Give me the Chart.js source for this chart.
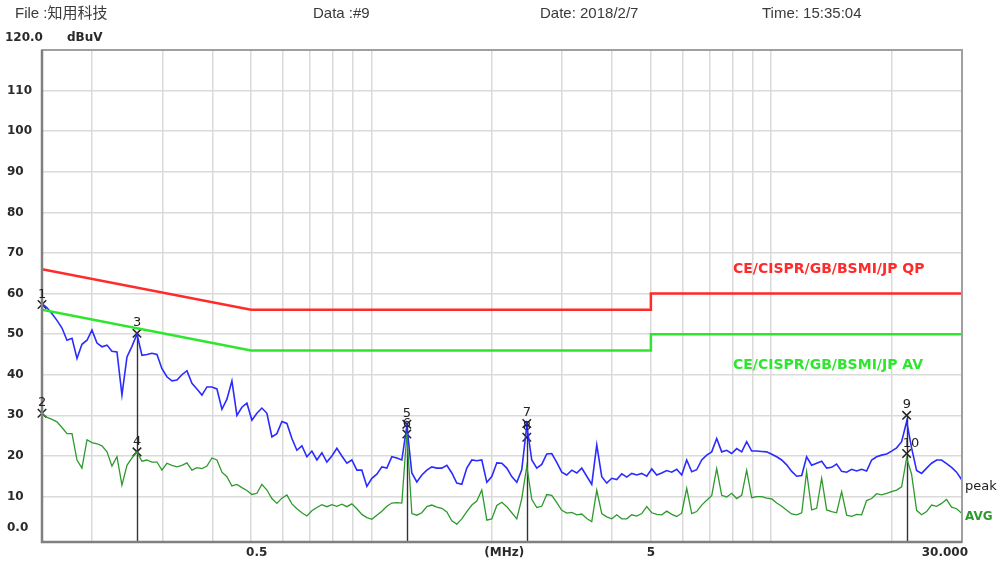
<!DOCTYPE html>
<html><head><meta charset="utf-8">
<script src="https://cdn.jsdelivr.net/npm/chart.js@4.4.1/dist/chart.umd.min.js"></script>
<style>html,body{margin:0;padding:0;background:#fff;}</style>
</head><body>
<canvas id="c" width="1000" height="565"></canvas>
<script>
// ---- data ----
const freqMHz = [
0.1500,0.1544,0.1589,0.1635,0.1683,0.1732,0.1783,0.1835,0.1888,0.1944,
0.2000,0.2059,0.2119,0.2181,0.2244,0.2310,0.2377,0.2447,0.2518,0.2592,
0.2667,0.2745,0.2825,0.2908,0.2993,0.3080,0.3170,0.3263,0.3358,0.3456,
0.3557,0.3661,0.3768,0.3878,0.3991,0.4108,0.4228,0.4351,0.4478,0.4609,
0.4743,0.4882,0.5025,0.5171,0.5322,0.5478,0.5638,0.5802,0.5972,0.6146,
0.6326,0.6510,0.6700,0.6896,0.7097,0.7305,0.7518,0.7737,0.7963,0.8196,
0.8435,0.8681,0.8935,0.9196,0.9464,0.9741,1.0025,1.0318,1.0619,1.0929,
1.1248,1.1577,1.1915,1.2263,1.2621,1.2989,1.3369,1.3759,1.4161,1.4574,
1.500,1.544,1.589,1.635,1.683,1.732,1.783,1.835,1.888,1.944,
2.000,2.059,2.119,2.181,2.244,2.310,2.377,2.447,2.518,2.592,
2.667,2.745,2.825,2.908,2.993,3.080,3.170,3.263,3.358,3.456,
3.557,3.661,3.768,3.878,3.991,4.108,4.228,4.351,4.478,4.609,
4.743,4.882,5.025,5.171,5.322,5.478,5.638,5.802,5.972,6.146,
6.326,6.510,6.700,6.896,7.097,7.305,7.518,7.737,7.963,8.196,
8.435,8.681,8.935,9.196,9.464,9.741,10.03,10.32,10.62,10.93,
11.25,11.58,11.92,12.26,12.62,12.99,13.37,13.76,14.16,14.57,
15.00,15.44,15.89,16.35,16.83,17.32,17.83,18.35,18.88,19.44,
20.00,20.59,21.19,21.81,22.44,23.10,23.77,24.47,25.18,25.92,
26.67,27.45,28.25,29.08,30.00];

const peak = [
57.5,56.5,55,53.4,51.5,48.5,49,44,47.5,48.5,
51,47.8,46.9,47.3,45.8,45.6,35,44.4,47,50,
44.8,45,45.3,45,41.5,39.5,38.5,38.7,40,41,
37.9,36.5,35,37,37,36.5,31.5,34,38.5,30,
32,33,28.8,30.5,31.8,30.5,24.7,25.5,28.5,28,
24.3,21.4,22.5,19.8,21.2,19,20.8,18.5,20,21.9,
20,18.2,19,16.5,16.5,12.5,14.5,15.5,17.3,17,
19.8,19.5,19,27.4,15.8,13.6,15.3,16.5,17.3,17,
17,17.7,15.8,13.3,13,17,19,18.8,19,13.5,
14.9,18.3,18.2,17,14.9,13.5,16.6,27.5,19,17,
17.9,20.5,20.6,18.4,16,15.3,16.5,15.8,17,15,
13,22.7,14.9,13.3,14.5,14.2,15.6,14.8,15.7,15.3,
15.7,15,16.8,15.3,15.8,16.4,16,16.7,15.3,19,
16.1,16.6,19,20.2,21,24.3,21,21.4,20.6,21.8,
21,23.5,21.2,21.2,21.1,21,20.4,19.8,19,17.8,
16.2,15,15.2,19.8,17.7,18.2,18.7,17,17.2,18,
16.2,16,16.7,16.3,16.7,16.3,19,19.8,20.2,20.5,
21.2,22,23.5,28.5,22,16.4,15.7,17,18.2,19,
19,18.1,17.2,16,14];

const avg = [
30.5,29.5,29,28.4,27,25.5,25.5,19,17,24,
23.3,23,22.5,21,17.5,19.8,12.8,17.7,19.5,21,
18.7,19,18.5,18.5,16.5,18.2,17.7,17.3,17.7,18.3,
16.5,17.1,16.9,17.5,19.5,19,16,14.9,12.6,13,
12.2,11.5,10.5,10.8,13,11.6,9.5,8.3,9.6,10.4,
8.2,7,6,5.2,6.5,7.3,8,7.5,8,7.6,
8.1,7.5,8.2,7,5.6,4.8,4.4,5.4,6.4,7.6,
8.4,8.5,8.4,25.6,5.8,5.4,6,7.5,7.9,7.4,
7.1,6.2,4,3.2,4.5,6.3,7.9,8.9,11.6,4.2,
4.5,7.8,8.6,7.5,6,4.5,9.5,17.5,9.3,7.3,
7.6,10.5,10.3,8.5,6.6,5.9,6.1,5.5,5.7,4.6,
3.8,11.6,5.8,5,4.5,5.5,4.5,4.5,5.5,5.2,
5.8,7.5,6,5.6,5.5,6.4,5.6,5.1,5.9,12,
5.8,6.3,7.9,9.1,10.2,16.9,10.3,9.9,10.8,9.5,
10.3,16.5,9.7,10,10,9.6,9.4,8.4,7.6,6.6,
5.7,5.5,6,16.1,6.7,7.1,14.5,6.7,6.3,6,
11.2,5.4,5.1,5.6,5.5,9,9.5,10.7,10.4,10.8,
11.2,11.6,12.4,19.5,15.5,6.6,5.5,6.3,7.9,7.6,
8.3,9.3,7.4,7,5.8];

const qpLimitFreq = [0.15, 0.5, 5, 5, 30];
const qpLimit     = [66, 56, 56, 60, 60];
const avLimitFreq = [0.15, 0.5, 5, 5, 30];
const avLimit     = [56, 46, 46, 50, 50];

const markerNo    = [1, 2, 3, 4, 5, 6, 7, 8, 9, 10];
const markerFreq  = [0.15, 0.15, 0.2592, 0.2592, 1.2263, 1.2263, 2.447, 2.447, 21.81, 21.81];
const markerLevel = [57.3, 30.5, 50.2, 21.0, 27.8, 25.4, 28.0, 24.6, 30.0, 20.6];

const xGridTicks = [0.2,0.3,0.4,0.5,0.6,0.7,0.8,0.9,1,2,3,4,5,6,7,8,9,10,20];
const xTickLabels = ['0.5', '(MHz)', '5', '30.000'];
const xTickLabelFreq = [0.5, 2.15, 5, 30];
const yTicks = [10,20,30,40,50,60,70,80,90,100,110];
const yTickLabels = ['0.0','10','20','30','40','50','60','70','80','90','100','110'];
const yTickLabelValues = [0,10,20,30,40,50,60,70,80,90,100,110];

const headerTexts = ['File :知用科技', 'Data :#9', 'Date: 2018/2/7', 'Time: 15:35:04'];
const limitNames = ['CE/CISPR/GB/BSMI/JP QP', 'CE/CISPR/GB/BSMI/JP AV'];

// ---- build ----
const toXY = (xs, ys) => xs.map((f, i) => ({x: f, y: ys[i]}));

const deco = {
  id: 'deco',
  beforeDatasetsDraw(chart) {
    const {ctx, chartArea: a, scales: {x, y}} = chart;
    ctx.save();
    ctx.strokeStyle = '#333';
    ctx.lineWidth = 1.4;
    for (let i = 2; i < markerFreq.length; i += 2) {
      const px = Math.round(x.getPixelForValue(markerFreq[i])) + 0.5;
      const top = y.getPixelForValue(Math.max(markerLevel[i], markerLevel[i + 1]));
      ctx.beginPath(); ctx.moveTo(px, top); ctx.lineTo(px, a.bottom); ctx.stroke();
    }
    ctx.restore();
  },
  afterDatasetsDraw(chart) {
    const {ctx, chartArea: a, scales: {x, y}} = chart;
    ctx.save();
    // frame
    ctx.strokeStyle = '#a0a0a0'; ctx.lineWidth = 2;
    ctx.strokeRect(a.left, a.top, a.right - a.left, a.bottom - a.top);
    ctx.strokeStyle = '#808080'; ctx.lineWidth = 2.5;
    ctx.beginPath(); ctx.moveTo(a.left, a.top); ctx.lineTo(a.left, a.bottom); ctx.lineTo(a.right, a.bottom); ctx.stroke();

    // marker numbers
    ctx.fillStyle = '#222';
    ctx.font = '13px "DejaVu Sans"';
    ctx.textAlign = 'left'; ctx.textBaseline = 'alphabetic';
    markerNo.forEach((n, i) => {
      const px = x.getPixelForValue(markerFreq[i]);
      const py = y.getPixelForValue(markerLevel[i]);
      ctx.fillText(String(n), px - 4, py - 7);
    });

    // header
    ctx.fillStyle = '#3a3a3a';
    ctx.font = '15px "Liberation Sans", "Noto Sans CJK SC"';
    ctx.textBaseline = 'middle';
    const hx = [15, 313, 540, 762];
    headerTexts.forEach((t, i) => ctx.fillText(t, hx[i], 14));

    // unit line
    ctx.fillStyle = '#2a2a2a';
    ctx.font = 'bold 12px "DejaVu Sans"';
    ctx.fillText('120.0', 5, 38);
    ctx.fillText('dBuV', 67, 38);

    // y labels
    yTickLabels.forEach((t, i) => {
      let py = y.getPixelForValue(yTickLabelValues[i]);
      if (yTickLabelValues[i] === 0) py -= 9;
      ctx.fillText(t, 7, py);
    });

    // x labels
    ctx.textBaseline = 'middle';
    xTickLabels.forEach((t, i) => {
      const px = x.getPixelForValue(xTickLabelFreq[i]);
      if (i === 0) { ctx.textAlign = 'left'; ctx.fillText(t, px - 5, 553); }
      else if (i === 3) { ctx.textAlign = 'right'; ctx.fillText(t, px + 6, 553); }
      else { ctx.textAlign = 'center'; ctx.fillText(t, px, 553); }
    });

    // limit names
    ctx.textAlign = 'left';
    ctx.font = 'bold 14px "DejaVu Sans"';
    ctx.fillStyle = '#ff2a2a';
    ctx.fillText(limitNames[0], 733, 269);
    ctx.fillStyle = '#2ee62e';
    ctx.fillText(limitNames[1], 733, 365);

    // trace names
    ctx.fillStyle = '#222';
    ctx.font = '13px "DejaVu Sans"';
    ctx.fillText('peak', 965, 487);
    ctx.fillStyle = '#2e9a2e';
    ctx.font = 'bold 12px "DejaVu Sans"';
    ctx.fillText('AVG', 965, 517);
    ctx.restore();
  }
};

new Chart(document.getElementById('c'), {
  type: 'line',
  data: {
    datasets: [
      {label: 'QP limit', data: toXY(qpLimitFreq, qpLimit), borderColor: '#ff2a2a', borderWidth: 2.5, pointRadius: 0, tension: 0},
      {label: 'AV limit', data: toXY(avLimitFreq, avLimit), borderColor: '#2ee62e', borderWidth: 2.5, pointRadius: 0, tension: 0},
      {label: 'AVG', data: toXY(freqMHz, avg), borderColor: '#2e9a2e', borderWidth: 1.3, pointRadius: 0, tension: 0},
      {label: 'peak', data: toXY(freqMHz, peak), borderColor: '#2b2bff', borderWidth: 1.6, pointRadius: 0, tension: 0},
      {label: 'markers', type: 'scatter', data: toXY(markerFreq, markerLevel), pointStyle: 'crossRot',
       pointRadius: 6, borderColor: '#222', borderWidth: 1.5, backgroundColor: '#222', showLine: false, clip: false}
    ]
  },
  options: {
    responsive: false, animation: false, devicePixelRatio: 1,
    layout: {padding: {left: 42, top: 50, right: 38, bottom: 23}},
    plugins: {legend: {display: false}, tooltip: {enabled: false}},
    scales: {
      x: {type: 'logarithmic', min: 0.15, max: 30,
          afterBuildTicks: s => { s.ticks = xGridTicks.map(v => ({value: v})); },
          ticks: {display: false}, border: {display: false},
          grid: {color: '#dadada', lineWidth: 1.5, drawTicks: false}},
      y: {type: 'linear', min: -1.2, max: 120,
          afterBuildTicks: s => { s.ticks = yTicks.map(v => ({value: v})); },
          ticks: {display: false}, border: {display: false},
          grid: {color: '#dadada', lineWidth: 1.5, drawTicks: false}}
    }
  },
  plugins: [deco]
});
</script>
</body></html>
